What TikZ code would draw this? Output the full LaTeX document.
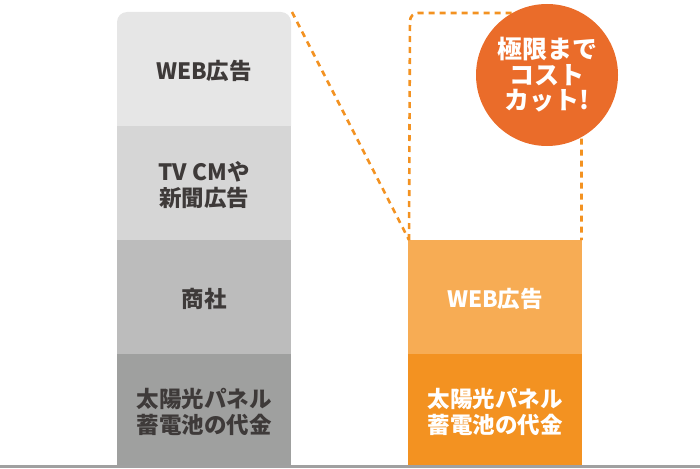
\documentclass[tikz,border=0pt]{standalone}
\usepackage{fontspec}
\setmainfont{Noto Sans CJK JP}
\definecolor{gA}{HTML}{E6E6E6}
\definecolor{gB}{HTML}{D6D6D6}
\definecolor{gC}{HTML}{BCBCBC}
\definecolor{gD}{HTML}{9FA09F}
\definecolor{baseG}{HTML}{A0A0A0}
\definecolor{orL}{HTML}{F7AC54}
\definecolor{orD}{HTML}{F39221}
\definecolor{orC}{HTML}{EA6C2A}
\definecolor{dotO}{HTML}{F39221}
\definecolor{txt}{HTML}{3E3A39}
\begin{document}
\begin{tikzpicture}[x=1pt,y=-1pt,
  lbl/.style={text=txt, font=\bfseries\fontsize{22.5}{26}\selectfont, align=center, inner sep=0pt},
  wlbl/.style={lbl, text=white},
  dotline/.style={draw=dotO, line width=2.6pt, dash pattern=on 6pt off 5pt},
  cutcircle/.style={circle, fill=orC, minimum size=142pt, inner sep=0pt, text=white, align=center,
    font=\bfseries\fontsize{25}{25.5}\selectfont}]
\useasboundingbox (0,0) rectangle (700,468);
% left bar
\fill[gA] (117,126) [rounded corners=10pt] -- (117,12) -- (291,12) [sharp corners] -- (291,126) -- cycle;
\fill[gB] (117,126) rectangle (291,240);
\fill[gC] (117,240) rectangle (291,354);
\fill[gD] (117,354) rectangle (291,465);
% right bar
\fill[orL] (408,240) rectangle (582,354);
\fill[orD] (408,354) rectangle (582,465);
% baseline
\fill[baseG] (0,465) rectangle (700,468);
% coordinates
\coordinate (ltop) at (292,12);
\coordinate (rbl) at (409,240);
\coordinate (rbr) at (581.5,240);
% dotted outline
\draw[dotline] (ltop) -- (rbl);
\draw[dotline] (rbl) [rounded corners=8pt] -- (410,13) -- (581.5,13) [sharp corners] -- (rbr);
% labels
\node[lbl] (l1) at (204,71) {WEB広告};
\node[lbl] (l2) at (204,185) {TV CMや\\新聞広告};
\node[lbl] (l3) at (204,299) {商社};
\node[lbl] (l4) at (204,412) {太陽光パネル\\蓄電池の代金};
\node[wlbl] (r1) at (495,299) {WEB広告};
\node[wlbl] (r2) at (495,412) {太陽光パネル\\蓄電池の代金};
% circle
\node[cutcircle] (cut) at (547,75) {極限まで\\コスト\\カット!};
\end{tikzpicture}
\end{document}
